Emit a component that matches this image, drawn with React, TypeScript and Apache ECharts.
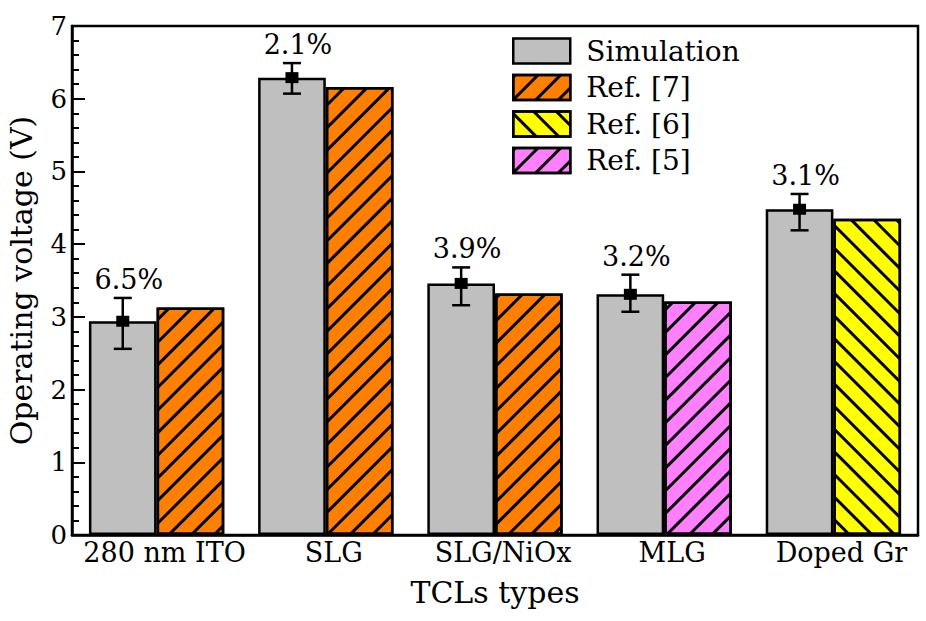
import React, { useEffect, useRef } from "react";
import * as echarts from "echarts";

const categories = ["280 nm ITO", "SLG", "SLG/NiOx", "MLG", "Doped Gr"];
const simulation = [2.94, 6.29, 3.46, 3.31, 4.48];
const simErrLow = [2.56, 6.07, 3.16, 3.07, 4.19];
const simErrHigh = [3.26, 6.49, 3.68, 3.58, 4.69];
const simPercent = ["6.5%", "2.1%", "3.9%", "3.2%", "3.1%"];
const ref7: (number | string)[] = [3.13, 6.16, 3.32, "-", "-"];
const ref6: (number | string)[] = ["-", "-", "-", "-", 4.35];
const ref5: (number | string)[] = ["-", "-", "-", 3.21, "-"];
const yTicks = [0, 1, 2, 3, 4, 5, 6, 7];

const FONT = "DejaVu Serif";
const CAT_GAP = 0.2;

function hatch(rotation: number) {
  return {
    symbol: "rect",
    symbolSize: 1,
    color: "#000",
    dashArrayX: [1, 0],
    dashArrayY: [3, 12.5],
    rotation,
  };
}

export default function App() {
  const ref = useRef<HTMLDivElement>(null);
  useEffect(() => {
    document.body.style.margin = "0";
    const chart = echarts.init(ref.current!, null, { renderer: "svg" });
    const errData = categories.map((_, i) => [i, simErrLow[i], simErrHigh[i], simulation[i], i]);
    const barBorder = { borderColor: "#000", borderWidth: 2.5 };
    chart.setOption({
      animation: false,
      backgroundColor: "#fff",
      textStyle: { fontFamily: FONT },
      grid: {
        left: 72,
        right: 8,
        top: 26,
        bottom: 86,
        containLabel: false,
        outerBoundsMode: "none",
        show: true,
        borderColor: "#000",
        borderWidth: 2.5,
      },
      legend: {
        orient: "vertical",
        left: 512,
        top: 37,
        padding: 0,
        itemWidth: 57,
        itemHeight: 25,
        itemGap: 8.5,
        icon: "rect",
        data: ["Simulation", "Ref. [7]", "Ref. [6]", "Ref. [5]"],
        textStyle: {
          fontFamily: FONT,
          fontSize: 28,
          lineHeight: 25,
          color: "#000",
          padding: [0, 0, 0, 11],
        },
        itemStyle: { borderColor: "#000", borderWidth: 2.5 },
      },
      xAxis: {
        type: "category",
        data: categories,
        name: "TCLs types",
        nameLocation: "middle",
        nameGap: 42,
        nameTextStyle: { fontFamily: FONT, fontSize: 30, color: "#000" },
        axisLine: { lineStyle: { color: "#000", width: 2.5 } },
        axisTick: { show: false },
        axisLabel: {
          interval: 0,
          fontFamily: FONT,
          fontSize: 27,
          color: "#000",
          margin: 4,
          padding: [0, 0, 0, 16],
        },
      },
      yAxis: {
        type: "value",
        min: yTicks[0],
        max: yTicks[yTicks.length - 1],
        interval: 1,
        name: "Operating voltage (V)",
        nameLocation: "middle",
        nameGap: 36,
        nameTextStyle: { fontFamily: FONT, fontSize: 30, color: "#000" },
        axisLine: { show: true, lineStyle: { color: "#000", width: 2.5 } },
        axisTick: { show: true, inside: true, length: 13, lineStyle: { color: "#000", width: 2 } },
        minorTick: { show: true, splitNumber: 5, length: 7, lineStyle: { color: "#000", width: 2 } },
        splitLine: { show: false },
        axisLabel: { fontFamily: FONT, fontSize: 26, color: "#000", margin: 5 },
      },
      series: [
        {
          name: "Simulation",
          type: "bar",
          data: simulation,
          barGap: "0%",
          barCategoryGap: CAT_GAP * 100 + "%",
          itemStyle: { color: "#bfbfbf", ...barBorder },
        },
        {
          name: "Ref. [7]",
          type: "bar",
          stack: "ref",
          data: ref7,
          itemStyle: { color: "#ff8000", ...barBorder, decal: hatch(-Math.PI / 4) },
        },
        {
          name: "Ref. [6]",
          type: "bar",
          stack: "ref",
          data: ref6,
          itemStyle: { color: "#ffff00", ...barBorder, decal: hatch(Math.PI / 4) },
        },
        {
          name: "Ref. [5]",
          type: "bar",
          stack: "ref",
          data: ref5,
          itemStyle: { color: "#ff80ff", ...barBorder, decal: hatch(-Math.PI / 4) },
        },
        {
          name: "err",
          type: "custom",
          z: 10,
          encode: { x: 0, y: [1, 2] },
          data: errData,
          renderItem: (params: any, api: any) => {
            const i = api.value(0);
            const band = api.size([1, 0])[0];
            const barW = (band * (1 - CAT_GAP)) / 2;
            const c = api.coord([i, api.value(3)]);
            const cx = c[0] - barW / 2;
            const yLo = api.coord([i, api.value(1)])[1];
            const yHi = api.coord([i, api.value(2)])[1];
            const cap = 9;
            const ls = { stroke: "#000", lineWidth: 2.5 };
            return {
              type: "group",
              children: [
                { type: "line", shape: { x1: cx, y1: yLo, x2: cx, y2: yHi }, style: ls },
                { type: "line", shape: { x1: cx - cap, y1: yLo, x2: cx + cap, y2: yLo }, style: ls },
                { type: "line", shape: { x1: cx - cap, y1: yHi, x2: cx + cap, y2: yHi }, style: ls },
                { type: "rect", shape: { x: cx - 6.5, y: c[1] - 5.5, width: 13, height: 11 }, style: { fill: "#000" } },
                {
                  type: "text",
                  style: {
                    text: simPercent[api.value(4)],
                    x: cx + 6,
                    y: yHi - 5,
                    align: "center",
                    verticalAlign: "bottom",
                    fontFamily: FONT,
                    fontSize: 27,
                    fill: "#000",
                  },
                },
              ],
            };
          },
        },
      ],
    });
    return () => chart.dispose();
  }, []);
  return <div ref={ref} style={{ width: 926, height: 621 }} />;
}
